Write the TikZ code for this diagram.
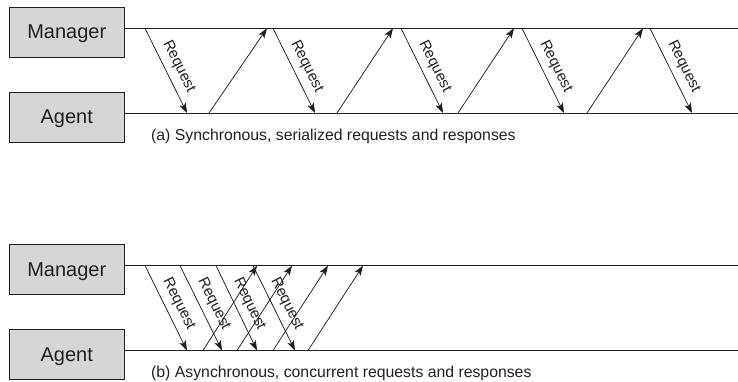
\documentclass[tikz,border=0pt]{standalone}
\usepackage{fontspec}
\setmainfont{Liberation Sans}
\usetikzlibrary{arrows.meta}
\definecolor{ink}{HTML}{231F20}
\definecolor{boxfill}{HTML}{D6D6D6}
\tikzset{
  actor/.style={draw=ink, fill=boxfill, line width=0.9pt, minimum width=114.5pt, minimum height=50pt,
    inner sep=0pt, text depth=0pt, font=\fontsize{20}{24}\selectfont, text=ink},
  lifeline/.style={draw=ink, line width=0.9pt},
  msg/.style={draw=ink, line width=0.75pt, -{Stealth[length=10pt,width=7pt,inset=2.4pt]}},
  lbl/.style={pos=0.52, sloped, above, inner sep=6.2pt, font=\fontsize{15}{18}\selectfont, text=ink},
  capt/.style={anchor=base west, inner sep=0pt, font=\fontsize{15.8}{19}\selectfont, text=ink}
}
\begin{document}
\begin{tikzpicture}[x=1pt,y=-1pt]
\useasboundingbox (0,0) rectangle (738,382);
% ---------- panel (a)
\node[actor] (ma) at (66.75,32) {Manager};
\node[actor] (aa) at (66.75,117) {Agent};
\coordinate (maR) at (738,28.3);
\coordinate (aaR) at (738,113);
\draw[lifeline] (ma.east |- maR) -- (maR);
\draw[lifeline] (aa.east |- aaR) -- (aaR);
\foreach \s/\e [count=\i] in {145/187,273/315,401/443,522/564,650/692}{
  \coordinate (rqa\i) at (\s,28.3);
  \coordinate (rqb\i) at (\e,113);
  \draw[msg] (rqa\i) -- node[lbl]{Request} (rqb\i);
}
\foreach \s/\e [count=\i] in {209/267,337/393,458/514,587/643}{
  \coordinate (rsa\i) at (\s,113);
  \coordinate (rsb\i) at (\e,28.3);
  \draw[msg] (rsa\i) -- (rsb\i);
}
\node[capt] (capa) at (151,140.5) {(a) Synchronous, serialized requests and responses};
% ---------- panel (b)
\node[actor] (mb) at (66.75,269.3) {Manager};
\node[actor] (ab) at (66.75,354.3) {Agent};
\coordinate (mbR) at (738,265.6);
\coordinate (abR) at (738,350.5);
\draw[lifeline] (mb.east |- mbR) -- (mbR);
\draw[lifeline] (ab.east |- abR) -- (abR);
\foreach \s/\e [count=\i] in {145/187,180/222,216/257,253/295}{
  \coordinate (qa\i) at (\s,265.6);
  \coordinate (qb\i) at (\e,350.5);
  \draw[msg] (qa\i) -- node[lbl]{Request} (qb\i);
}
\foreach \s/\e [count=\i] in {203/257,237/292,273/328,308/363}{
  \coordinate (pa\i) at (\s,350.5);
  \coordinate (pb\i) at (\e,265.6);
  \draw[msg] (pa\i) -- (pb\i);
}
\node[capt] (capb) at (151,377.3) {(b) Asynchronous, concurrent requests and responses};
\end{tikzpicture}
\end{document}
